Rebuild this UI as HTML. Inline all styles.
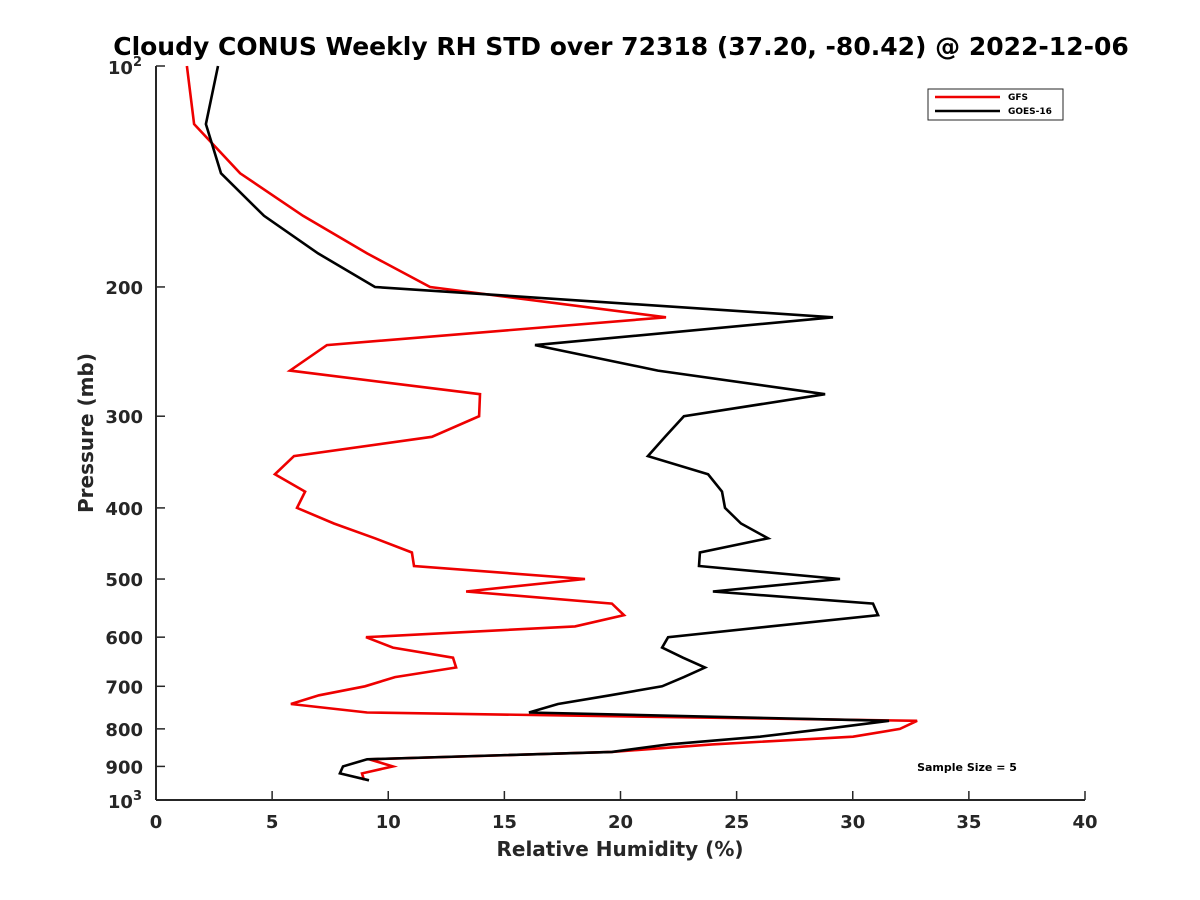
<!DOCTYPE html>
<html><head><meta charset="utf-8"><style>
body{margin:0;background:#fff;}
svg{display:block;font-family:"Liberation Sans","DejaVu Sans",sans-serif;}
</style></head><body>
<svg id="chart" width="1200" height="900" viewBox="0 0 1200 900">
<rect width="1200" height="900" fill="#fff"/>
<text x="621" y="55" text-anchor="middle" font-size="25" font-weight="bold" font-family="DejaVu Sans, sans-serif">Cloudy CONUS Weekly RH STD over 72318 (37.20, -80.42) @ 2022-12-06</text>
<g id="axes"></g>
<g id="series"></g>
<text x="620" y="856" text-anchor="middle" font-size="20" font-weight="bold" fill="#262626" font-family="DejaVu Sans, sans-serif">Relative Humidity (%)</text>
<text transform="translate(93,433) rotate(-90)" text-anchor="middle" font-size="20" font-weight="bold" fill="#262626" font-family="DejaVu Sans, sans-serif">Pressure (mb)</text>
<g>
<rect x="928" y="89" width="135" height="31" fill="#fff" stroke="#262626" stroke-width="1"/>
<line x1="935" y1="97" x2="1000" y2="97" stroke="#e00" stroke-width="2.5"/>
<text x="1008" y="100" font-size="9" font-weight="bold" font-family="DejaVu Sans, sans-serif">GFS</text>
<line x1="935" y1="111" x2="1000" y2="111" stroke="#000" stroke-width="2.5"/>
<text x="1008" y="114" font-size="9" font-weight="bold" font-family="DejaVu Sans, sans-serif">GOES-16</text>
</g>
<text x="967" y="771" text-anchor="middle" font-size="11" font-weight="bold" font-family="DejaVu Sans, sans-serif">Sample Size = 5</text>
</svg>
<script>
const pressures=[100,120,140,160,180,200,220,240,260,280,300,320,340,360,380,400,420,440,460,480,500,520,540,560,580,600,620,640,660,680,700,720,740,760,780,800,820,840,860,880,900,920,940];
const goesRH=[2.67,2.15,2.80,4.65,6.98,9.43,29.15,16.32,21.61,28.81,22.73,21.92,21.18,23.77,24.37,24.50,25.19,26.35,23.42,23.38,29.45,23.98,30.87,31.09,26.44,22.05,21.79,22.69,23.64,22.73,21.79,19.55,17.31,16.06,31.56,28.81,26.01,22.05,19.63,9.09,8.05,7.92,9.17];
const gfsRH=[1.33,1.64,3.62,6.33,9.09,11.80,21.96,7.36,5.77,13.95,13.91,11.88,5.94,5.12,6.42,6.07,7.66,9.43,11.02,11.11,18.47,13.35,19.63,20.15,18.04,9.04,10.20,12.79,12.92,10.29,9.00,7.02,5.81,9.09,32.77,32.03,30.01,23.94,19.63,9.17,10.20,8.87,8.96];
const xTicks=[0,5,10,15,20,25,30,35,40];
const yTicks=[200,300,400,500,600,700,800,900];
const NS='http://www.w3.org/2000/svg';
const X0=156,X1=1085,Y0=66,Y1=800;
function xs(v){return X0+(v-0)/40*(X1-X0);}
function ys(p){return Y0+Math.log10(p/100)*(Y1-Y0);}
function mk(tag,attrs,parent){const e=document.createElementNS(NS,tag);for(const k in attrs)e.setAttribute(k,attrs[k]);parent.appendChild(e);return e;}
const axes=document.getElementById('axes');
const ser=document.getElementById('series');
let l=mk('line',{x1:X0,y1:Y0,x2:X0,y2:Y1,stroke:'#262626','stroke-width':2},axes);


l=mk('line',{x1:X0,y1:Y1,x2:X1,y2:Y1,stroke:'#262626','stroke-width':2},axes);


xTicks.forEach(v=>{
  const t=mk('line',{x1:xs(v),y1:Y1,x2:xs(v),y2:Y1-9,stroke:'#262626','stroke-width':1.5},axes);
  
  
  const tx=mk('text',{x:xs(v),y:Y1+28,'text-anchor':'middle','font-size':18,'font-weight':'bold',fill:'#262626','font-family':'DejaVu Sans, sans-serif'},axes);
  tx.textContent=v;
  
  
});
yTicks.forEach(v=>{
  const t=mk('line',{x1:X0,y1:ys(v),x2:X0+9,y2:ys(v),stroke:'#262626','stroke-width':1.5},axes);
  
  
  const tx=mk('text',{x:X0-13,y:ys(v)+7,'text-anchor':'end','font-size':18,'font-weight':'bold',fill:'#262626','font-family':'DejaVu Sans, sans-serif'},axes);
  tx.textContent=v;
  
  
});
[[100,'2'],[1000,'3']].forEach(([p,e])=>{
  const t=mk('line',{x1:X0,y1:ys(p),x2:X0+9,y2:ys(p),stroke:'#262626','stroke-width':1.5},axes);
  
  
  const tx=mk('text',{x:X0-14,y:ys(p)+8,'text-anchor':'end','font-size':18,'font-weight':'bold',fill:'#262626','font-family':'DejaVu Sans, sans-serif'},axes);
  
  
  tx.appendChild(document.createTextNode('10'));
  const s=mk('tspan',{'font-size':13,dy:-8},tx);s.textContent=e;
});
function line(vals,color,name){
  const pts=vals.map((v,i)=>xs(v).toFixed(1)+','+ys(pressures[i]).toFixed(1)).join(' ');
  const pl=mk('polyline',{points:pts,fill:'none',stroke:color,'stroke-width':2.6,'stroke-linejoin':'miter'},ser);
  
  
}
line(gfsRH,'#e00','gfs-line');
line(goesRH,'#000','goes16-line');
</script>
</body></html>
